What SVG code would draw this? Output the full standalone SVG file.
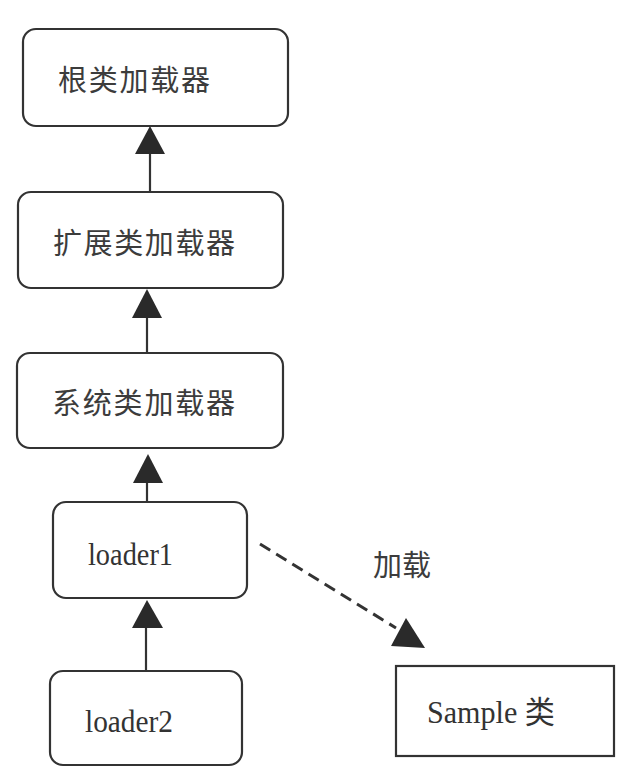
<svg xmlns="http://www.w3.org/2000/svg" width="635" height="784" viewBox="0 0 635 784">
<style>
.box{fill:#fff;stroke:#333;stroke-width:2.2}
.cn{font-family:"Noto Sans CJK SC","Liberation Sans",sans-serif;font-size:29px;fill:#3c3c3c}
.en{font-family:"Liberation Serif","Noto Sans CJK SC",serif;font-size:31px;fill:#333}
.ln{stroke:#333;stroke-width:2.2;fill:none}
.head{fill:#2a2a2a}
</style>
<rect width="635" height="784" fill="#fff"/>
<g id="connectors">
<line class="ln" x1="150" y1="150" x2="150" y2="192"/>
<polygon class="head" points="150,126 135,154 165,154"/>
<line class="ln" x1="147" y1="314" x2="147" y2="353"/>
<polygon class="head" points="147,289 132,318 162,318"/>
<line class="ln" x1="147" y1="480" x2="147" y2="502"/>
<polygon class="head" points="148,454 133,483 163,483"/>
<line class="ln" x1="146" y1="625" x2="146" y2="671"/>
<polygon class="head" points="147,600 132,628 163,628"/>
<line x1="260" y1="544" x2="396" y2="628" stroke="#333" stroke-width="3" stroke-dasharray="12,7"/>
<polygon class="head" points="406,618 391,646 425,648"/>
<text class="cn" x="373" y="576">加载</text>
</g>
<g id="root-loader">
<rect class="box" x="23" y="29" width="265" height="97" rx="13"/>
<text class="cn" x="58" y="91" textLength="152">根类加载器</text>
</g>
<g id="ext-loader">
<rect class="box" x="18" y="192" width="265" height="96" rx="13"/>
<text class="cn" x="53" y="254" textLength="182">扩展类加载器</text>
</g>
<g id="sys-loader">
<rect class="box" x="17" y="353" width="266" height="95" rx="13"/>
<text class="cn" x="52" y="414" textLength="183">系统类加载器</text>
</g>
<g id="loader1">
<rect class="box" x="53" y="502" width="194" height="96" rx="13"/>
<text class="en" x="88" y="565" textLength="85" lengthAdjust="spacingAndGlyphs">loader1</text>
</g>
<g id="loader2">
<rect class="box" x="50" y="671" width="192" height="94" rx="13"/>
<text class="en" x="85" y="732" textLength="88" lengthAdjust="spacingAndGlyphs">loader2</text>
</g>
<g id="sample">
<rect class="box" x="396" y="666" width="218" height="90"/>
<text class="en" x="427" y="723" textLength="128" lengthAdjust="spacingAndGlyphs">Sample 类</text>
</g>
</svg>
